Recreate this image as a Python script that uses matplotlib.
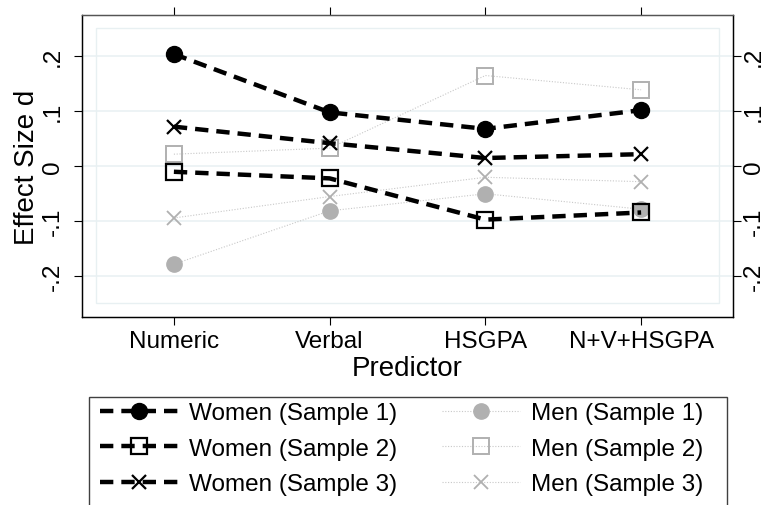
import matplotlib
matplotlib.use("Agg")
import matplotlib.pyplot as plt
from matplotlib.patches import Rectangle

plt.rcParams['font.family'] = ['Liberation Sans', 'DejaVu Sans']

predictors = ["Numeric", "Verbal", "HSGPA", "N+V+HSGPA"]
women_s1 = [0.203, 0.097, 0.067, 0.101]
women_s2 = [-0.011, -0.023, -0.098, -0.085]
women_s3 = [0.071, 0.041, 0.014, 0.021]
men_s1 = [-0.179, -0.082, -0.051, -0.079]
men_s2 = [0.021, 0.032, 0.164, 0.138]
men_s3 = [-0.095, -0.056, -0.021, -0.029]
yticks = [-0.2, -0.1, 0, 0.1, 0.2]
ytick_labels = ["-.2", "-.1", "0", ".1", ".2"]

x = list(range(1, len(predictors) + 1))
ylim = (-0.275, 0.274)

fig = plt.figure(figsize=(7.66, 5.06), dpi=100)
ax = fig.add_axes([82/766, 1 - 318/506, 651/766, 302/506])

grid_col = '#E8F0F2'
for yv in yticks:
    ax.axhline(yv, color=grid_col, lw=1.1, zorder=0)
ax.add_patch(Rectangle((0.5, -0.25), 4.0, 0.5, fill=False, ec=grid_col, lw=1.0, zorder=0))

gray_m = '#B0B0B0'
gray_l = '#C8C8C8'
men_kw = dict(color=gray_l, lw=0.8, linestyle=(0, (1, 1.5)), zorder=2)
h_m1, = ax.plot(x, men_s1, marker='o', ms=11, mfc=gray_m, mec=gray_m, **men_kw)
h_m2, = ax.plot(x, men_s2, marker='s', ms=12, mfc='none', mec=gray_m, mew=1.4, **men_kw)
h_m3, = ax.plot(x, men_s3, marker='x', ms=10, mec=gray_m, mew=1.3, **men_kw)

women_kw = dict(color='black', lw=3.2, dashes=(3.0, 1.8), zorder=3)
h_w1, = ax.plot(x, women_s1, marker='o', ms=11.5, mfc='black', mec='black', **women_kw)
h_w2, = ax.plot(x, women_s2, marker='s', ms=12, mfc='none', mec='black', mew=1.6, **women_kw)
h_w3, = ax.plot(x, women_s3, marker='x', ms=10, mec='black', mew=1.6, **women_kw)

ax.set_xlim(0.41, 4.59)
ax.set_ylim(*ylim)
ax.set_xticks(x)
ax.set_xticklabels(predictors)
ax.set_yticks(yticks)
ax.set_yticklabels(ytick_labels)

ax.tick_params(axis='x', top=True, bottom=True, direction='out', length=6, width=0.8,
               labelsize=17.5, pad=3)
ax.tick_params(axis='y', left=True, right=False, direction='out', length=6, width=0.8,
               labelsize=17.5, pad=7, labelrotation=90)
for lab in ax.get_yticklabels():
    lab.set_va('center')

# right-hand axis: same ticks, tighter label gap
ax2 = ax.twinx()
ax2.set_ylim(*ylim)
ax2.set_yticks(yticks)
ax2.set_yticklabels(ytick_labels)
ax2.tick_params(axis='y', direction='out', length=6, width=0.8, labelsize=17.5,
                pad=1, labelrotation=90)
for lab in ax2.get_yticklabels():
    lab.set_va('center')

for a in (ax, ax2):
    for side in ['left', 'right', 'bottom']:
        a.spines[side].set_color('black')
        a.spines[side].set_linewidth(0.9)
    a.spines['top'].set_color('#555555')
    a.spines['top'].set_linewidth(0.9)

ax.set_ylabel("Effect Size d", fontsize=20)
ax.yaxis.label.set_va('center')
ax.yaxis.set_label_coords(-0.084, 0.5)
ax.set_xlabel("Predictor", fontsize=20)
ax.xaxis.label.set_va('center')
ax.xaxis.set_label_coords(0.5, -0.168)

handles = [h_w1, h_w2, h_w3, h_m1, h_m2, h_m3]
labels = ["Women (Sample 1)", "Women (Sample 2)", "Women (Sample 3)",
          "Men (Sample 1)", "Men (Sample 2)", "Men (Sample 3)"]
fig.legend(handles, labels, ncol=2, loc='upper left',
           bbox_to_anchor=(100/766, 1 - 403/506), frameon=False,
           borderaxespad=0, borderpad=0, handlelength=3.2, handletextpad=0.45,
           columnspacing=1.85, labelspacing=0.56, numpoints=1, fontsize=17.5)
fig.patches.append(Rectangle((89/766, -0.3), (727 - 89)/766, 0.3 + (1 - 398/506),
                             transform=fig.transFigure, fill=False, ec='#404040', lw=1.0))

fig.savefig("out.png", dpi=100)
